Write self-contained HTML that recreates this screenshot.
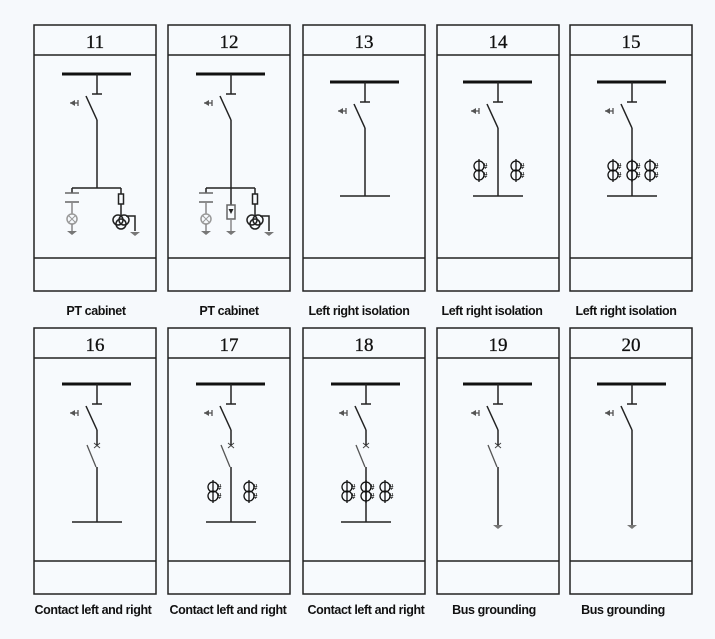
<!DOCTYPE html>
<html><head><meta charset="utf-8"><style>
html,body{margin:0;padding:0;background:#f6f9fc;}
svg{display:block}
.lb{font-family:"Liberation Sans",sans-serif;font-weight:bold;font-size:12.5px;letter-spacing:-0.4px;fill:#111}
.nm{font-family:"Liberation Serif",serif;font-size:19px;fill:#111;stroke:#111;stroke-width:0.3}
</style></head><body>
<svg width="715" height="639" viewBox="0 0 715 639" xmlns="http://www.w3.org/2000/svg">
<rect width="715" height="639" fill="#f6f9fc"/>
<defs>
<g id="frame">
<rect x="0" y="0" width="122" height="266" fill="#f7fafd" stroke="#222" stroke-width="1.5"/>
<line x1="0" y1="30" x2="122" y2="30" stroke="#222" stroke-width="1.5"/>
<line x1="0" y1="233" x2="122" y2="233" stroke="#222" stroke-width="1.5"/>
</g>
<g id="ct">
<circle cx="0" cy="0" r="5" fill="none" stroke="#111" stroke-width="1.3"/>
<circle cx="0" cy="9" r="5" fill="none" stroke="#111" stroke-width="1.3"/>
<line x1="0" y1="-7" x2="0" y2="16" stroke="#111" stroke-width="1.3"/>
<text x="4" y="3" font-family="Liberation Sans,sans-serif" font-size="8" font-weight="bold" fill="#111">#</text>
<text x="4" y="12" font-family="Liberation Sans,sans-serif" font-size="8" font-weight="bold" fill="#111">#</text>
</g>
<g id="top">
<line x1="28" y1="0" x2="97" y2="0" stroke="#111" stroke-width="3"/>
<line x1="63" y1="0" x2="63" y2="20" stroke="#222" stroke-width="1.5"/>
<line x1="58" y1="20" x2="68" y2="20" stroke="#222" stroke-width="1.5"/>
<path d="M36 29 L41 26 L41 32 Z" fill="#555"/>
<line x1="36" y1="29" x2="44" y2="29" stroke="#555" stroke-width="1.3"/>
<line x1="44" y1="26" x2="44" y2="32" stroke="#555" stroke-width="1.3"/>
<line x1="52" y1="22" x2="63" y2="46" stroke="#222" stroke-width="1.5"/>
</g>
<g id="sw2">
<line x1="60" y1="115" x2="66" y2="120" stroke="#444" stroke-width="1"/>
<line x1="66" y1="115" x2="60" y2="120" stroke="#444" stroke-width="1"/>
<line x1="53" y1="117" x2="62" y2="139" stroke="#555" stroke-width="1.3"/>
<line x1="63" y1="102" x2="63" y2="117" stroke="#222" stroke-width="1.5"/>
</g>
<g id="gnd"><path d="M-5 0 L5 0 L0 4 Z" fill="#777"/></g>
</defs>

<!-- Row 1 -->
<g transform="translate(34,25)">
<use href="#frame"/><text class="nm" x="61" y="23" text-anchor="middle">11</text>
<use href="#top" transform="translate(0,49)"/>
<g stroke="#222" stroke-width="1.5" fill="none">
<line x1="63" y1="95" x2="63" y2="163"/>
<line x1="38" y1="163" x2="87" y2="163"/>
<line x1="38" y1="163" x2="38" y2="168"/>
<line x1="31" y1="168" x2="45" y2="168" stroke="#666"/>
<line x1="31" y1="177" x2="45" y2="177" stroke="#666"/>
<line x1="38" y1="177" x2="38" y2="189" stroke="#888"/>
<circle cx="38" cy="194" r="5" stroke="#999"/>
<path d="M34.5 190.5 L41.5 197.5 M41.5 190.5 L34.5 197.5" stroke="#999" stroke-width="1"/>
<line x1="38" y1="199" x2="38" y2="206" stroke="#888"/>
<line x1="87" y1="163" x2="87" y2="190"/>
<rect x="84.5" y="169" width="5" height="10" fill="#f7fafd"/>
<circle cx="84" cy="195" r="5"/><circle cx="90" cy="195" r="5"/><circle cx="87" cy="199" r="5"/>
<polyline points="92,191 101,191 101,206"/>
</g>
<use href="#gnd" transform="translate(38,206)"/><use href="#gnd" transform="translate(101,207)"/>
</g>

<g transform="translate(168,25)">
<use href="#frame"/><text class="nm" x="61" y="23" text-anchor="middle">12</text>
<use href="#top" transform="translate(0,49)"/>
<g stroke="#222" stroke-width="1.5" fill="none">
<line x1="63" y1="95" x2="63" y2="180"/>
<line x1="38" y1="163" x2="87" y2="163"/>
<line x1="38" y1="163" x2="38" y2="168"/>
<line x1="31" y1="168" x2="45" y2="168" stroke="#666"/>
<line x1="31" y1="177" x2="45" y2="177" stroke="#666"/>
<line x1="38" y1="177" x2="38" y2="189" stroke="#888"/>
<circle cx="38" cy="194" r="5" stroke="#999"/>
<path d="M34.5 190.5 L41.5 197.5 M41.5 190.5 L34.5 197.5" stroke="#999" stroke-width="1"/>
<line x1="38" y1="199" x2="38" y2="206" stroke="#888"/>
<rect x="59" y="180" width="8" height="14" stroke="#666"/>
<path d="M60.5 184 L65.5 184 L63 189 Z" fill="#222" stroke="none"/>
<line x1="63" y1="194" x2="63" y2="206" stroke="#888"/>
<line x1="87" y1="163" x2="87" y2="190"/>
<rect x="84.5" y="169" width="5" height="10" fill="#f7fafd"/>
<circle cx="84" cy="195" r="5"/><circle cx="90" cy="195" r="5"/><circle cx="87" cy="199" r="5"/>
<polyline points="92,191 101,191 101,206"/>
</g>
<use href="#gnd" transform="translate(38,206)"/><use href="#gnd" transform="translate(63,206)"/><use href="#gnd" transform="translate(101,207)"/>
</g>

<g transform="translate(303,25)">
<use href="#frame"/><text class="nm" x="61" y="23" text-anchor="middle">13</text>
<use href="#top" transform="translate(-1,57)"/>
<line x1="62" y1="103" x2="62" y2="171" stroke="#222" stroke-width="1.5"/>
<line x1="37" y1="171" x2="87" y2="171" stroke="#222" stroke-width="1.5"/>
</g>

<g transform="translate(437,25)">
<use href="#frame"/><text class="nm" x="61" y="23" text-anchor="middle">14</text>
<use href="#top" transform="translate(-2,57)"/>
<line x1="61" y1="103" x2="61" y2="171" stroke="#222" stroke-width="1.5"/>
<line x1="36" y1="171" x2="86" y2="171" stroke="#222" stroke-width="1.5"/>
<use href="#ct" transform="translate(42,141)"/><use href="#ct" transform="translate(79,141)"/>
</g>

<g transform="translate(570,25)">
<use href="#frame"/><text class="nm" x="61" y="23" text-anchor="middle">15</text>
<use href="#top" transform="translate(-1,57)"/>
<line x1="62" y1="103" x2="62" y2="171" stroke="#222" stroke-width="1.5"/>
<line x1="37" y1="171" x2="87" y2="171" stroke="#222" stroke-width="1.5"/>
<use href="#ct" transform="translate(43,141)"/><use href="#ct" transform="translate(62,141)"/><use href="#ct" transform="translate(80,141)"/>
</g>

<!-- Row 2 -->
<g transform="translate(34,328)">
<use href="#frame"/><text class="nm" x="61" y="23" text-anchor="middle">16</text>
<use href="#top" transform="translate(0,56)"/>
<use href="#sw2"/>
<line x1="63" y1="139" x2="63" y2="194" stroke="#222" stroke-width="1.5"/>
<line x1="38" y1="194" x2="88" y2="194" stroke="#222" stroke-width="1.5"/>
</g>

<g transform="translate(168,328)">
<use href="#frame"/><text class="nm" x="61" y="23" text-anchor="middle">17</text>
<use href="#top" transform="translate(0,56)"/>
<use href="#sw2"/>
<line x1="63" y1="139" x2="63" y2="194" stroke="#222" stroke-width="1.5"/>
<line x1="38" y1="194" x2="88" y2="194" stroke="#222" stroke-width="1.5"/>
<use href="#ct" transform="translate(45,159)"/><use href="#ct" transform="translate(81,159)"/>
</g>

<g transform="translate(303,328)">
<use href="#frame"/><text class="nm" x="61" y="23" text-anchor="middle">18</text>
<use href="#top" transform="translate(0,56)"/>
<use href="#sw2"/>
<line x1="63" y1="139" x2="63" y2="194" stroke="#222" stroke-width="1.5"/>
<line x1="38" y1="194" x2="88" y2="194" stroke="#222" stroke-width="1.5"/>
<use href="#ct" transform="translate(44,159)"/><use href="#ct" transform="translate(63,159)"/><use href="#ct" transform="translate(82,159)"/>
</g>

<g transform="translate(437,328)">
<use href="#frame"/><text class="nm" x="61" y="23" text-anchor="middle">19</text>
<use href="#top" transform="translate(-2,56)"/>
<g transform="translate(-2,0)"><use href="#sw2"/></g>
<line x1="61" y1="139" x2="61" y2="197" stroke="#222" stroke-width="1.5"/>
<use href="#gnd" transform="translate(61,197)"/>
</g>

<g transform="translate(570,328)">
<use href="#frame"/><text class="nm" x="61" y="23" text-anchor="middle">20</text>
<use href="#top" transform="translate(-1,56)"/>
<line x1="62" y1="102" x2="62" y2="197" stroke="#222" stroke-width="1.5"/>
<use href="#gnd" transform="translate(62,197)"/>
</g>

<!-- labels -->
<text class="lb" x="96" y="315" text-anchor="middle">PT cabinet</text>
<text class="lb" x="229" y="315" text-anchor="middle">PT cabinet</text>
<text class="lb" x="359" y="315" text-anchor="middle">Left right isolation</text>
<text class="lb" x="492" y="315" text-anchor="middle">Left right isolation</text>
<text class="lb" x="626" y="315" text-anchor="middle">Left right isolation</text>
<text class="lb" x="93" y="614" text-anchor="middle">Contact left and right</text>
<text class="lb" x="228" y="614" text-anchor="middle">Contact left and right</text>
<text class="lb" x="366" y="614" text-anchor="middle">Contact left and right</text>
<text class="lb" x="494" y="614" text-anchor="middle">Bus grounding</text>
<text class="lb" x="623" y="614" text-anchor="middle">Bus grounding</text>
</svg>
</body></html>
